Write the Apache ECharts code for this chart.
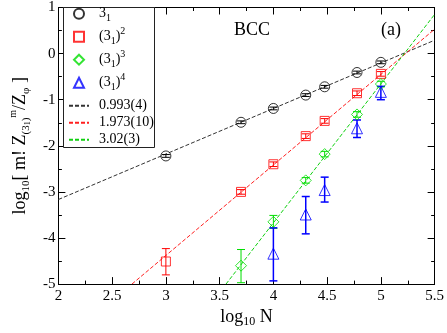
<!DOCTYPE html>
<html>
<head>
<meta charset="utf-8">
<script src="https://cdn.jsdelivr.net/npm/echarts@6/dist/echarts.min.js"></script>
<style>
  html, body { margin: 0; padding: 0; background: #fff; }
  #chart { width: 447px; height: 333px; }
</style>
</head>
<body>
<div id="chart"></div>
<script>
  // log10 N for N = 1000, 5000, 1e4, 2e4, 3e4, 6e4, 1e5
  var xKnot1 = [3, 3.699, 4, 4.301, 4.477, 4.778, 5];
  var yKnot1 = [-2.22, -1.49, -1.19, -0.90, -0.72, -0.41, -0.19];
  var loKnot1 = [-2.25, -1.52, -1.22, -0.93, -0.75, -0.44, -0.22];
  var hiKnot1 = [-2.19, -1.46, -1.16, -0.87, -0.69, -0.38, -0.16];

  var xKnot2 = [3, 3.699, 4, 4.301, 4.477, 4.778, 5];
  var yKnot2 = [-4.51, -3.00, -2.40, -1.79, -1.46, -0.86, -0.44];
  var loKnot2 = [-4.80, -3.05, -2.45, -1.84, -1.51, -0.91, -0.49];
  var hiKnot2 = [-4.23, -2.95, -2.35, -1.74, -1.41, -0.81, -0.39];

  var xKnot3 = [3.699, 4, 4.301, 4.477, 4.778, 5];
  var yKnot3 = [-4.60, -3.65, -2.75, -2.18, -1.32, -0.66];
  var loKnot3 = [-4.97, -3.79, -2.81, -2.24, -1.38, -0.72];
  var hiKnot3 = [-4.25, -3.51, -2.69, -2.12, -1.26, -0.60];

  var xKnot4 = [4, 4.301, 4.477, 4.778, 5];
  var yKnot4 = [-4.34, -3.49, -2.96, -1.62, -0.83];
  var loKnot4 = [-4.93, -3.91, -3.22, -1.82, -1.00];
  var hiKnot4 = [-3.78, -3.10, -2.68, -1.44, -0.71];

  // fitted lines, end points
  var fit1X = [2, 5.5], fit1Y = [-3.165, 0.29];
  var fit2X = [2.684, 5.5], fit2Y = [-5, 0.53];
  var fit3X = [3.559, 5.5], fit3Y = [-5, 0.85];

  var pointNames = ['3_1', '(3_1)^2', '(3_1)^3', '(3_1)^4'];
  var fitNames = ['0.993(4)', '1.973(10)', '3.02(3)'];
  var colors = ['#000000', '#ff0000', '#00dd00', '#0000ff'];
  var fitColors = ['#333333', '#ff2020', '#10d010'];

  var serif = 'Liberation Serif';

  function pairs(xs, ys) {
    return xs.map(function (x, i) { return [x, ys[i]]; });
  }
  function bars(xs, lo, hi) {
    return xs.map(function (x, i) { return [x, lo[i], hi[i]]; });
  }

  function errSeries(data, color, width) {
    return {
      type: 'custom',
      name: 'err',
      data: data,
      encode: { x: 0, y: [1, 2] },
      z: 3,
      renderItem: function (params, api) {
        var top = api.coord([api.value(0), api.value(2)]);
        var bot = api.coord([api.value(0), api.value(1)]);
        var st = { stroke: color, lineWidth: width };
        return {
          type: 'group',
          children: [
            { type: 'line', shape: { x1: top[0], y1: top[1], x2: bot[0], y2: bot[1] }, style: st },
            { type: 'line', shape: { x1: top[0] - 4, y1: top[1], x2: top[0] + 4, y2: top[1] }, style: st },
            { type: 'line', shape: { x1: bot[0] - 4, y1: bot[1], x2: bot[0] + 4, y2: bot[1] }, style: st }
          ]
        };
      }
    };
  }

  function pointSeries(name, data, symbol, size, color) {
    return {
      type: 'scatter',
      name: name,
      data: data,
      symbol: symbol,
      symbolSize: size,
      z: 4,
      itemStyle: { color: 'rgba(0,0,0,0)', borderColor: color, borderWidth: 1 }
    };
  }

  function fitSeries(name, data, color) {
    return {
      type: 'line',
      name: name,
      data: data,
      symbol: 'none',
      z: 2,
      itemStyle: { color: color },
      lineStyle: { color: color, width: 1, type: [4, 2] }
    };
  }

  var legendText = {
    '3_1': '{n|3}{sb|1}',
    '(3_1)^2': '{n|(3}{sb|1}{n|)}{sp|2}',
    '(3_1)^3': '{n|(3}{sb|1}{n|)}{sp|3}',
    '(3_1)^4': '{n|(3}{sb|1}{n|)}{sp|4}'
  };

  var legendRich = {
    n: { fontFamily: serif, fontSize: 14, lineHeight: 20, color: '#000' },
    sb: { fontFamily: serif, fontSize: 10, lineHeight: 10, verticalAlign: 'bottom', color: '#000' },
    sp: { fontFamily: serif, fontSize: 10, lineHeight: 10, verticalAlign: 'top', color: '#000' },
    m: { fontFamily: serif, fontSize: 14, lineHeight: 13, color: '#000' }
  };

  var axisBase = {
    type: 'value',
    axisLine: { show: true, onZero: false, lineStyle: { color: '#000', width: 1 } },
    axisTick: { show: true, inside: true, length: 7, lineStyle: { color: '#000' } },
    minorTick: { show: true, splitNumber: 2, length: 3.5, lineStyle: { color: '#000' } },
    splitLine: { show: false }
  };

  function ax(extra) {
    return Object.assign({}, axisBase, extra);
  }

  var option = {
    animation: false,
    backgroundColor: '#fff',
    grid: { left: 46, right: 10, top: 6, bottom: 40 },
    title: [
      { text: 'BCC', left: 247, top: 16, textAlign: 'center',
        textStyle: { fontFamily: serif, fontSize: 18, fontWeight: 'normal', color: '#000' } },
      { text: '(a)', left: 386, top: 16, textAlign: 'center',
        textStyle: { fontFamily: serif, fontSize: 18, fontWeight: 'normal', color: '#000' } }
    ],
    // legend frame
    graphic: [{
      type: 'rect', z: 5,
      shape: { x: 63.5, y: 7.5, width: 91, height: 140 },
      style: { fill: '#fff', stroke: '#222', lineWidth: 1 }
    }],
    legend: [{
      orient: 'vertical',
      left: 73,
      top: 6.7,
      z: 6,
      data: pointNames,
      itemWidth: 10,
      itemHeight: 10,
      itemGap: 3,
      padding: 0,
      formatter: function (name) { return legendText[name]; },
      textStyle: { fontFamily: serif, fontSize: 14, color: '#000', padding: [0, 0, 0, 10], rich: legendRich }
    }, {
      orient: 'vertical',
      left: 68,
      top: 98.7,
      z: 6,
      data: fitNames.map(function (n) {
        return { name: n, itemStyle: { color: 'rgba(0,0,0,0)', borderWidth: 0 } };
      }),
      itemWidth: 20,
      itemHeight: 10,
      itemGap: 3,
      padding: 0,
      formatter: function (name) { return '{m|' + name + '}'; },
      textStyle: { fontFamily: serif, fontSize: 14, color: '#000', padding: [0, 0, 0, 5], rich: legendRich }
    }],
    xAxis: [
      ax({
        min: 2, max: 5.5, interval: 0.5, position: 'bottom',
        name: '{n|log}{s|10}{n| N}',
        nameLocation: 'middle',
        nameGap: 13,
        nameTextStyle: {
          rich: {
            n: { fontFamily: serif, fontSize: 18, lineHeight: 22, color: '#000' },
            s: { fontFamily: serif, fontSize: 12, lineHeight: 12, verticalAlign: 'bottom', color: '#000' }
          }
        },
        axisLabel: { fontFamily: serif, fontSize: 15, color: '#000', margin: 4,
          formatter: function (v) { return String(v); } }
      }),
      ax({
        min: 2, max: 5.5, interval: 0.5, position: 'top',
        axisLabel: { show: false }
      })
    ],
    yAxis: [
      ax({
        min: -5, max: 1, interval: 1, position: 'left',
        name: '{n|log}{s|10}{n|[ m! Z}{s|(3}{ss|1}{s|)}{sp|m}{n|/Z}{s|φ}{n| ]}',
        nameLocation: 'middle',
        nameRotate: 90,
        nameGap: 22,
        nameTextStyle: {
          rich: {
            n: { fontFamily: serif, fontSize: 18, lineHeight: 24, color: '#000' },
            s: { fontFamily: serif, fontSize: 11, lineHeight: 11, verticalAlign: 'bottom', color: '#000' },
            ss: { fontFamily: serif, fontSize: 8, lineHeight: 8, verticalAlign: 'bottom', color: '#000' },
            sp: { fontFamily: serif, fontSize: 10, lineHeight: 10, verticalAlign: 'top', color: '#000' }
          }
        },
        axisLabel: { fontFamily: serif, fontSize: 15, color: '#000', margin: 3 }
      }),
      ax({
        min: -5, max: 1, interval: 1, position: 'right',
        axisLabel: { show: false }
      })
    ],
    series: [
      fitSeries(fitNames[0], pairs(fit1X, fit1Y), fitColors[0]),
      fitSeries(fitNames[1], pairs(fit2X, fit2Y), fitColors[1]),
      fitSeries(fitNames[2], pairs(fit3X, fit3Y), fitColors[2]),
      errSeries(bars(xKnot1, loKnot1, hiKnot1), colors[0], 1),
      errSeries(bars(xKnot2, loKnot2, hiKnot2), colors[1], 1),
      errSeries(bars(xKnot3, loKnot3, hiKnot3), colors[2], 1),
      errSeries(bars(xKnot4, loKnot4, hiKnot4), colors[3], 1.5),
      pointSeries(pointNames[0], pairs(xKnot1, yKnot1), 'circle', 10, colors[0]),
      pointSeries(pointNames[1], pairs(xKnot2, yKnot2), 'rect', 9, colors[1]),
      pointSeries(pointNames[2], pairs(xKnot3, yKnot3), 'diamond', 11, colors[2]),
      pointSeries(pointNames[3], pairs(xKnot4, yKnot4), 'triangle', 11, colors[3])
    ]
  };

  echarts.init(document.getElementById('chart')).setOption(option);
</script>
</body>
</html>
